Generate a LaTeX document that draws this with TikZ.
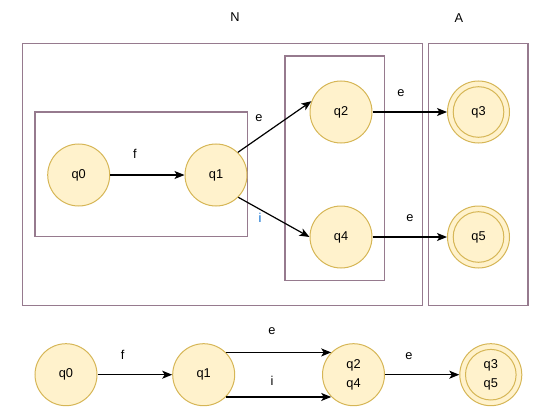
\documentclass[tikz,border=0pt]{standalone}
\usepackage{fontspec}
\setmainfont{Liberation Sans}
\usetikzlibrary{arrows.meta}
\definecolor{boxc}{RGB}{150,122,142}
\definecolor{sfill}{HTML}{FFF2CC}
\definecolor{sline}{HTML}{D6B656}
\definecolor{ilbl}{HTML}{0066CC}
\begin{document}
\begin{tikzpicture}[x=1pt,y=-1pt,
  state/.style={circle,minimum size=62pt,inner sep=0pt,fill=sfill,draw=sline,line width=1pt,font=\fontsize{12.8}{19}\selectfont,align=center},
  ring/.style={draw=sline,line width=1pt},
  grp/.style={draw=boxc,line width=1.2pt},
  lbl/.style={font=\fontsize{12.8}{14}\selectfont,inner sep=0pt},
  arr/.style={line width=1.2pt,-{Stealth[length=10pt,width=8pt,inset=2.5pt]}}]
\useasboundingbox (0,0) rectangle (552,420);
% groups
\draw[grp] (22.5,43.5) rectangle (422.5,305.5);
\draw[grp] (428.5,43.5) rectangle (528,305.5);
\draw[grp] (35,112) rectangle (247.5,236.8);
\draw[grp] (285,56) rectangle (384.5,280.5);
\node[lbl] (lN) at (235,17.5) {N};
\node[lbl] (lA) at (459,18) {A};
% top automaton
\node[state] (q0) at (78.7,175) {q0};
\node[state] (q1) at (216,175) {q1};
\node[state] (q2) at (341,112) {q2};
\node[state] (q4) at (341,237) {q4};
\node[state] (q3) at (478.5,112) {q3};
\node[state] (q5) at (478.5,237) {q5};
\draw[ring] (q3) circle[radius=25.3pt];
\draw[ring] (q5) circle[radius=25.3pt];
\node[lbl] (f1) at (135,153.5) {f};
\node[lbl] (e1) at (259,118) {e};
\node[lbl,text=ilbl] (i1) at (260,217.5) {i};
\node[lbl] (e2) at (401,93) {e};
\node[lbl] (e3) at (410,218) {e};
\draw[arr] (q0) -- (q1);
\draw[arr] (q1.46) -- (q2.160);
\draw[arr] (q1.-45) -- (q4.west);
\draw[arr] (q2) -- (q3);
\draw[arr] (q4) -- (q5);
% bottom automaton
\node[state] (b0) at (66,374.7) {q0};
\node[state] (b1) at (203.7,374.7) {q1};
\node[state] (b24) at (353.5,374.7) {q2\\q4};
\node[state] (b35) at (490.8,374.7) {q3\\q5};
\draw[ring] (b35) circle[radius=25.3pt];
\node[lbl] (f2) at (122.7,355) {f};
\node[lbl] (e4) at (272,330.7) {e};
\node[lbl] (i2) at (272,380.7) {i};
\node[lbl] (e5) at (409,355.7) {e};
\draw[arr] (b0) -- (b1);
\draw[arr] (b1.45) -- (b24.135);
\draw[arr] (b1.-45) -- (b24.-135);
\draw[arr] (b24) -- (b35);
\end{tikzpicture}
\end{document}
